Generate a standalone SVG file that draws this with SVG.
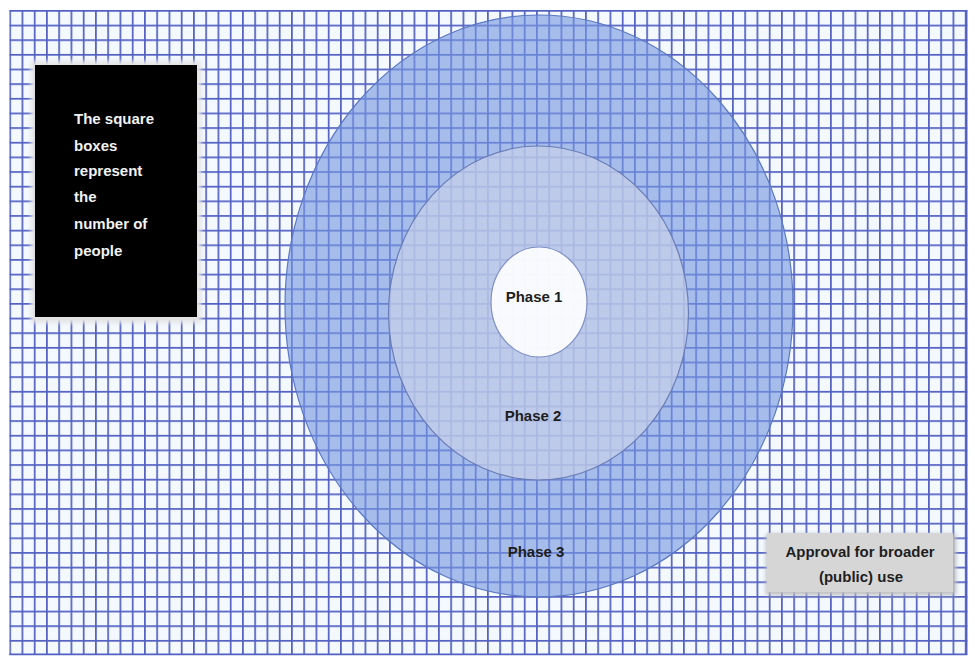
<svg xmlns="http://www.w3.org/2000/svg" width="975" height="660" viewBox="0 0 975 660">
  <defs>
    <pattern id="grid" x="9.3" y="10" width="12.25" height="14.65" patternUnits="userSpaceOnUse">
      <rect width="12.25" height="14.65" fill="#f3f9ff"/>
      <path d="M0.85 0V14.65M0 0.85H12.25" stroke="#5260c2" stroke-width="1.7" fill="none"/>
    </pattern>
    <filter id="halo" x="-10%" y="-10%" width="120%" height="120%">
      <feGaussianBlur stdDeviation="2"/>
    </filter>
  </defs>
  <style>
    .lbl { font-family: "Liberation Sans", Arial, sans-serif; font-weight: bold; font-size: 15px; fill: #1e1e1e; }
    .note { font-family: "Liberation Sans", Arial, sans-serif; font-weight: bold; font-size: 15px; fill: #f2f2f2; }
  </style>
  <rect width="975" height="660" fill="#ffffff"/>
  <g id="grid-bg">
    <rect x="9.3" y="10" width="958" height="645" fill="url(#grid)"/>
    <path d="M966.6 10V655M9.3 654.3H967.3" stroke="#5260c2" stroke-width="1.7"/>
  </g>
  <g id="phase3">
    <ellipse cx="539" cy="306" rx="254" ry="291" fill="#7698e0" fill-opacity="0.62" stroke="#5b78c2" stroke-width="1.2"/>
    <text class="lbl" x="536" y="557" text-anchor="middle">Phase 3</text>
  </g>
  <g id="phase2">
    <ellipse cx="538.5" cy="313" rx="150" ry="167" fill="#c8d0e8" fill-opacity="0.7" stroke="#6a7cb6" stroke-width="1.2"/>
    <text class="lbl" x="533" y="420.5" text-anchor="middle">Phase 2</text>
  </g>
  <g id="phase1">
    <ellipse cx="539" cy="302" rx="48" ry="55" fill="#ffffff" fill-opacity="0.9" stroke="#7d8fc4" stroke-width="1.2"/>
    <text class="lbl" x="534" y="302" text-anchor="middle">Phase 1</text>
  </g>
  <g id="legend">
    <rect x="31" y="61" width="170" height="262" fill="#e4e4e4" filter="url(#halo)"/>
    <rect x="35" y="65" width="162" height="252" fill="#000000"/>
    <text class="note" x="74" y="124">The square</text>
    <text class="note" x="74" y="150.5">boxes</text>
    <text class="note" x="74" y="176">represent</text>
    <text class="note" x="74" y="202">the</text>
    <text class="note" x="74" y="229">number of</text>
    <text class="note" x="74" y="255.5">people</text>
  </g>
  <g id="approval">
    <rect x="766" y="534" width="190" height="61" fill="#bdbdbd" filter="url(#halo)"/>
    <rect x="767" y="533" width="186" height="59" fill="#d6d6d6"/>
    <text class="lbl" x="860" y="557" text-anchor="middle">Approval for broader</text>
    <text class="lbl" x="861" y="582" text-anchor="middle">(public) use</text>
  </g>
  <g id="connectors"/>
</svg>
